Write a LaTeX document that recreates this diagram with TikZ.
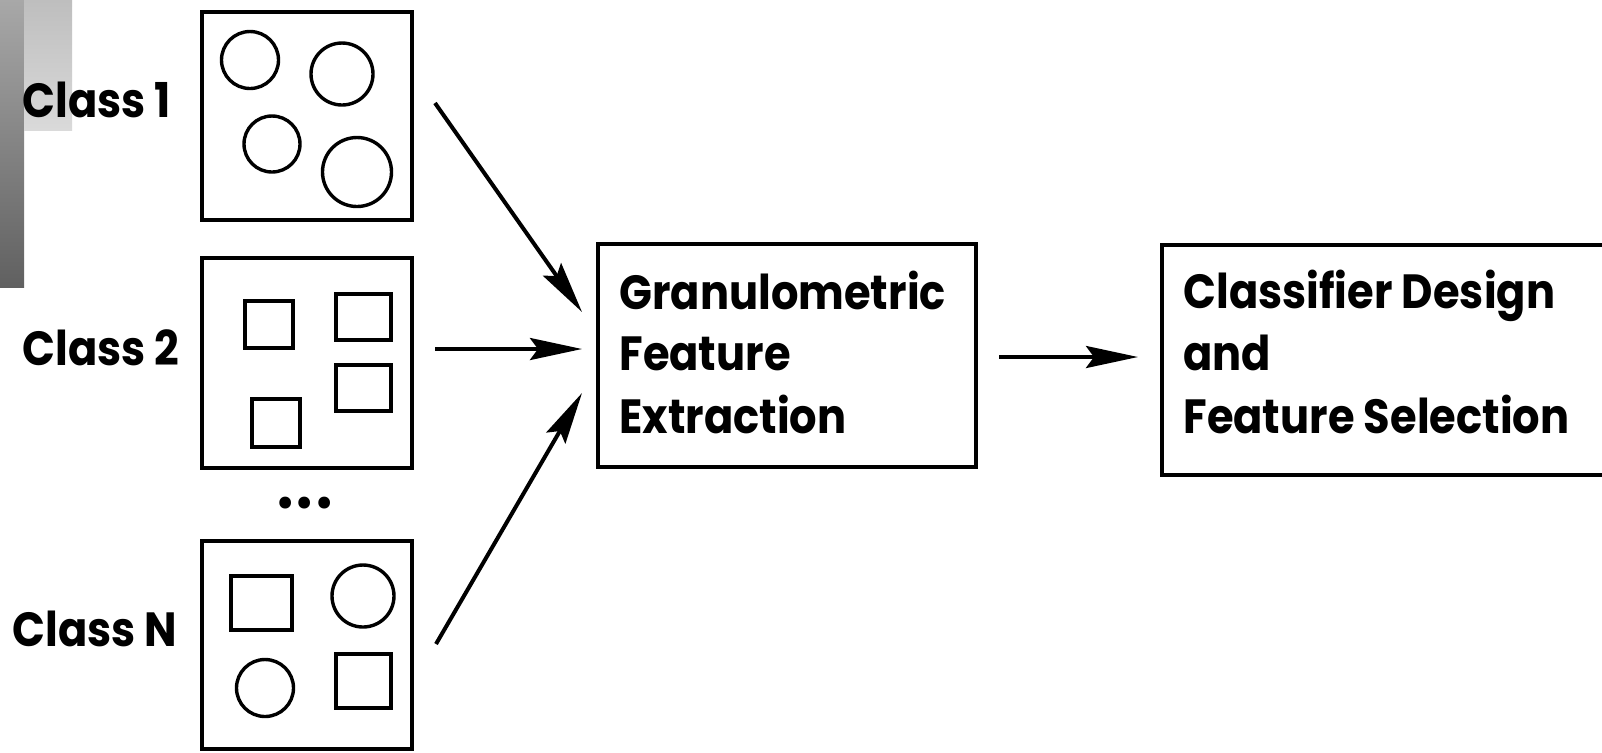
\documentclass[tikz,border=0pt]{standalone}
\usepackage{fontspec}
\setmainfont{Poppins}[FakeStretch=0.9]
\usetikzlibrary{arrows.meta}
\definecolor{darktop}{RGB}{168,168,168}
\definecolor{darkbot}{RGB}{96,96,96}
\definecolor{lighttop}{RGB}{190,190,190}
\definecolor{lightbot}{RGB}{218,218,218}
\begin{document}
\begin{tikzpicture}[x=0.5pt,y=-0.5pt,
  panel/.style={draw,line width=2pt,rectangle,inner sep=0pt,minimum width=105pt,minimum height=104pt},
  block/.style={draw,line width=2pt,rectangle,inner sep=0pt},
  lbl/.style={anchor=base west,inner sep=0pt,font=\fontsize{24}{31}\selectfont\bfseries},
  shp/.style={line width=1.7pt},
  arr/.style={line width=2pt,-{Stealth[length=26pt,width=11pt,inset=4pt]}}
]
\clip (0,0) rectangle (1602,752);
\fill[white] (0,0) rectangle (1602,752);
% decorative bars
\shade[top color=darktop,bottom color=darkbot] (0,0) rectangle (24,287);
\shade[top color=lighttop,bottom color=lightbot] (24,0) rectangle (72,130);

% class panels
\node[panel] (p1) at (307,116) {};
\node[panel,minimum height=105pt] (p2) at (307,363) {};
\node[panel] (pN) at (307,644.5) {};

% main blocks
\node[block,minimum width=189pt,minimum height=111.5pt] (gfe) at (787,355.5) {};
\node[block,minimum width=224pt,minimum height=115pt] (cds) at (1386,360) {};

% labels
\node[lbl] (l1) at (22,117) {Class 1};
\node[lbl] (l2) at (22,365) {Class 2};
\node[lbl] (lN) at (12,646) {Class N};
\node[lbl] (g1) at (619,309) {Granulometric};
\node[lbl] (g2) at (619,370) {Feature};
\node[lbl] (g3) at (619,433) {Extraction};
\node[lbl] (k1) at (1183,308) {Classifier Design};
\node[lbl] (k2) at (1183,370) {and};
\node[lbl] (k3) at (1183,433) {Feature Selection};
\node[lbl,anchor=base,font=\fontsize{32}{32}\selectfont\bfseries] (dots) at (305,508.5) {.\kern1.5pt.\kern1.5pt.};

% shapes in class 1
\draw[shp] (250,60) circle[radius=14.25pt];
\draw[shp] (342,74) circle[radius=15.5pt];
\draw[shp] (272,144) circle[radius=14pt];
\draw[shp] (357,172) circle[radius=17.25pt];
% shapes in class 2
\draw[shp] (245,301) rectangle (293,348);
\draw[shp] (336,294) rectangle (391,340);
\draw[shp] (336,365) rectangle (391,411);
\draw[shp] (252,399) rectangle (300,447);
% shapes in class N
\draw[shp] (231,576) rectangle (292,630);
\draw[shp] (363,596) circle[radius=15.5pt];
\draw[shp] (265,688) circle[radius=14.25pt];
\draw[shp] (336,654) rectangle (391,708);

% connectors
\coordinate (a1s) at (435,103); \coordinate (a1e) at (582,312);
\coordinate (a2s) at (435,349); \coordinate (a2e) at (582,349);
\coordinate (a3s) at (436,644); \coordinate (a3e) at (582,393);
\coordinate (a4s) at (999,357); \coordinate (a4e) at (1138,357);
\draw[arr] (a1s) -- (a1e);
\draw[arr] (a2s) -- (a2e);
\draw[arr] (a3s) -- (a3e);
\draw[arr] (a4s) -- (a4e);
\end{tikzpicture}
\end{document}
